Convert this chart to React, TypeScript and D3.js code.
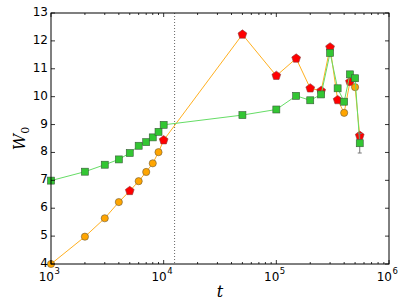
import React, { useRef, useEffect } from 'react';
import * as d3 from 'd3';

// sampling times
const times = [1000, 2000, 3000, 4000, 5000, 6000, 7000, 8000, 9000, 10000,
    50000, 100000, 150000, 200000, 250000, 300000, 350000, 400000, 450000, 500000, 550000];
// orange / red series
const seriesA = [4.0, 4.98, 5.64, 6.22, 6.62, 6.97, 7.30, 7.61, 8.01, 8.44,
    12.23, 10.75, 11.37, 10.30, 10.21, 11.77, 9.88, 9.42, 10.53, 10.34, 8.60];
// which points of series A are red pentagons
const seriesAFlag = [0, 0, 0, 0, 1, 0, 0, 0, 0, 1, 1, 1, 1, 1, 1, 1, 1, 0, 1, 0, 1];
const seriesAErr = [0, 0, 0, 0, 0, 0, 0, 0, 0, 0, 0, 0, 0, 0, 0, 0, 0, 0, 0.05, 0.05, 0.1];
// green series
const seriesB = [6.99, 7.31, 7.56, 7.75, 7.98, 8.24, 8.37, 8.54, 8.74, 8.99,
    9.34, 9.54, 10.03, 9.87, 10.08, 11.57, 10.30, 9.82, 10.80, 10.66, 8.33];
const seriesBErr = [0, 0, 0, 0, 0, 0, 0, 0, 0, 0, 0, 0, 0, 0, 0, 0, 0, 0, 0.08, 0.1, 0.35];

const xTicks = [1e3, 1e4, 1e5, 1e6];
const xTickExp = ['3', '4', '5', '6'];
const yTicks = [4, 5, 6, 7, 8, 9, 10, 11, 12, 13];
const vLine = 12500;

const W = 407, H = 307;
const M = { left: 51, right: 389, top: 13, bottom: 264 };

const App: React.FC = () => {
    const svgRef = useRef<SVGSVGElement>(null);

    useEffect(() => {
        if (!svgRef.current) return;
        const svg = d3.select(svgRef.current);
        svg.selectAll("*").remove();

        const x = d3.scaleLog().domain([1e3, 1e6]).range([M.left, M.right]);
        const y = d3.scaleLinear().domain([4, 13]).range([M.bottom, M.top]);

        const font = "DejaVu Sans";

        // dotted vertical line
        svg.append("line")
            .attr("x1", x(vLine)).attr("x2", x(vLine))
            .attr("y1", M.top).attr("y2", M.bottom)
            .attr("stroke", "#666").attr("stroke-width", 1)
            .attr("stroke-dasharray", "1,2");

        const line = d3.line<number>()
            .x((_, i) => x(times[i]))
            .y(d => y(d));

        const errBars = (vals: number[], errs: number[]) => {
            vals.forEach((v, i) => {
                if (!errs[i]) return;
                const cx = x(times[i]);
                svg.append("line")
                    .attr("x1", cx).attr("x2", cx)
                    .attr("y1", y(v - errs[i])).attr("y2", y(v + errs[i]))
                    .attr("stroke", "#777").attr("stroke-width", 1);
                [v - errs[i], v + errs[i]].forEach(e => {
                    svg.append("line")
                        .attr("x1", cx - 2).attr("x2", cx + 2)
                        .attr("y1", y(e)).attr("y2", y(e))
                        .attr("stroke", "#777").attr("stroke-width", 1);
                });
            });
        };

        // series A
        svg.append("path").datum(seriesA)
            .attr("d", line)
            .attr("fill", "none").attr("stroke", "#FFB020").attr("stroke-width", 1);
        errBars(seriesA, seriesAErr);
        seriesA.forEach((v, i) => {
            const cx = x(times[i]), cy = y(v);
            if (seriesAFlag[i]) {
                const r = 4.6;
                const pts = d3.range(5).map(k => {
                    const a = -Math.PI / 2 + k * 2 * Math.PI / 5;
                    return [cx + r * Math.cos(a), cy + r * Math.sin(a)];
                });
                svg.append("polygon")
                    .attr("points", pts.map(p => p.join(",")).join(" "))
                    .attr("fill", "#FF0000").attr("stroke", "#8a3a3a").attr("stroke-width", 0.6);
            } else {
                svg.append("circle")
                    .attr("cx", cx).attr("cy", cy).attr("r", 3.6)
                    .attr("fill", "#FFA500").attr("stroke", "#6b5a3a").attr("stroke-width", 0.6);
            }
        });

        // series B
        svg.append("path").datum(seriesB)
            .attr("d", line)
            .attr("fill", "none").attr("stroke", "#66DD66").attr("stroke-width", 1);
        errBars(seriesB, seriesBErr);
        seriesB.forEach((v, i) => {
            const cx = x(times[i]), cy = y(v);
            svg.append("rect")
                .attr("x", cx - 3.5).attr("y", cy - 3.5)
                .attr("width", 7).attr("height", 7)
                .attr("fill", "#33C633").attr("stroke", "#3a5a3a").attr("stroke-width", 0.6);
        });

        // frame
        svg.append("rect")
            .attr("x", M.left).attr("y", M.top)
            .attr("width", M.right - M.left).attr("height", M.bottom - M.top)
            .attr("fill", "none").attr("stroke", "#000").attr("stroke-width", 1);

        // ticks, inward on all four sides
        const ticks = svg.append("g").attr("stroke", "#000").attr("stroke-width", 0.8);
        const minor: number[] = [];
        [1e3, 1e4, 1e5].forEach(d => d3.range(2, 10).forEach(k => minor.push(d * k)));
        minor.forEach(t => {
            ticks.append("line").attr("x1", x(t)).attr("x2", x(t)).attr("y1", M.bottom).attr("y2", M.bottom - 2);
            ticks.append("line").attr("x1", x(t)).attr("x2", x(t)).attr("y1", M.top).attr("y2", M.top + 2);
        });
        xTicks.forEach((t, i) => {
            ticks.append("line").attr("x1", x(t)).attr("x2", x(t)).attr("y1", M.bottom).attr("y2", M.bottom - 4);
            ticks.append("line").attr("x1", x(t)).attr("x2", x(t)).attr("y1", M.top).attr("y2", M.top + 4);
            // base and exponent as separate texts so the exponent sits clear of the y labels
            svg.append("text")
                .attr("x", x(t) + 3).attr("y", M.bottom + 17)
                .attr("text-anchor", "end")
                .attr("font-family", font).attr("font-size", 12).attr("fill", "#000")
                .text("10");
            svg.append("text")
                .attr("x", x(t) + 3.5).attr("y", M.bottom + 10)
                .attr("text-anchor", "start")
                .attr("font-family", font).attr("font-size", 8.5).attr("fill", "#000")
                .text(xTickExp[i]);
        });
        yTicks.forEach(v => {
            ticks.append("line").attr("x1", M.left).attr("x2", M.left + 4).attr("y1", y(v)).attr("y2", y(v));
            ticks.append("line").attr("x1", M.right).attr("x2", M.right - 4).attr("y1", y(v)).attr("y2", y(v));
            svg.append("text")
                .attr("x", M.left - 3).attr("y", y(v) + 3)
                .attr("text-anchor", "end")
                .attr("font-family", font).attr("font-size", 12).attr("fill", "#000")
                .text(v);
        });

        // axis labels
        svg.append("text")
            .attr("x", (M.left + M.right) / 2).attr("y", 297)
            .attr("text-anchor", "middle")
            .attr("font-family", "DejaVu Serif").attr("font-style", "italic")
            .attr("font-size", 16).attr("fill", "#000")
            .text("t");
        const yl = svg.append("text")
            .attr("transform", `translate(25, ${(M.top + M.bottom) / 2}) rotate(-90)`)
            .attr("text-anchor", "middle")
            .attr("font-family", "DejaVu Serif").attr("font-style", "italic")
            .attr("font-size", 16).attr("fill", "#000");
        yl.append("tspan").text("W");
        yl.append("tspan").attr("dy", 4).attr("font-size", 11).attr("font-style", "normal").text("0");
    }, []);

    return (
        <svg ref={svgRef} width={W} height={H}
            style={{ position: 'absolute', left: 0, top: 0, background: '#fff' }} />
    );
};

export default App;
